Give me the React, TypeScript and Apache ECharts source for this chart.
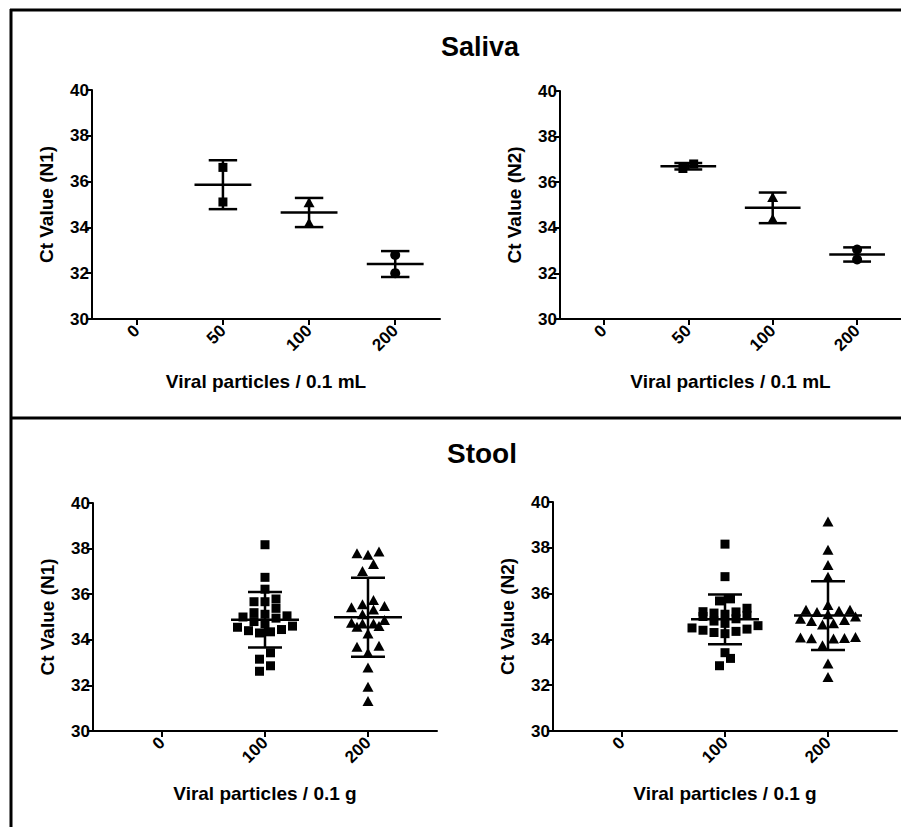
import React, { useEffect, useRef } from 'react';
import * as echarts from 'echarts';

// ---------- data ----------
const salivaCategories = ['0', '50', '100', '200'];
const stoolCategories = ['0', '100', '200'];
const yMin = 30;
const yMax = 40;
const yStep = 2;

const salivaN1_50 = [36.62, 35.11];
const salivaN1_100 = [35.1, 34.2];
const salivaN1_200 = [32.8, 32.0];

const salivaN2_50 = [36.6, 36.8];
const salivaN2_100 = [35.35, 34.4];
const salivaN2_200 = [32.61, 33.05];

const stoolN1_100 = [38.17, 36.74, 36.22, 35.79, 35.67, 35.67, 35.38, 35.19, 35.12, 35.05, 35.0, 34.95,
  34.8, 34.7, 34.6, 34.55, 34.45, 34.4, 34.35, 34.3, 33.43, 33.15, 32.86, 32.62];
const stoolN1_200 = [37.87, 37.73, 37.8, 37.32, 37.02, 35.43, 35.56, 35.75, 35.33, 35.48, 35.12, 34.87,
  34.72, 34.6, 34.57, 34.72, 34.75, 34.28, 33.7, 33.74, 33.43, 32.79, 31.94, 31.32];
const stoolN2_100 = [38.16, 36.74, 35.77, 35.68, 35.36, 35.21, 35.2, 35.15, 35.1, 35.05, 35.0, 34.9,
  34.8, 34.7, 34.6, 34.5, 34.45, 34.4, 34.35, 34.3, 34.25, 33.42, 33.17, 32.85];
const stoolN2_200 = [39.15, 37.91, 37.25, 36.74, 35.5, 35.3, 35.3, 35.25, 35.2, 35.1, 35.0, 34.9,
  34.85, 34.8, 34.7, 34.65, 34.1, 34.05, 34.08, 34.04, 34.06, 33.75, 32.95, 32.36];

// ---------- layout ----------
const FONT = '"Liberation Sans", Arial, Helvetica, sans-serif';

type Group = { idx: number; values: number[]; symbol: string; size: number | number[] };
type Panel = {
  grid: { left: number; top: number; width: number; height: number };
  cats: string[];
  xMin: number;
  xMax: number;
  yName: string;
  xName: string;
  groups: Group[];
};

const SQ = { symbol: 'rect', size: 9 };
const TRI = { symbol: 'triangle', size: [11, 10] };
const CIR = { symbol: 'circle', size: 10 };

const panels: Panel[] = [
  {
    grid: { left: 92, top: 90, width: 348, height: 229 },
    cats: salivaCategories, xMin: -0.52, xMax: 3.52,
    yName: 'Ct Value (N1)', xName: 'Viral particles / 0.1 mL',
    groups: [
      { idx: 1, values: salivaN1_50, ...SQ },
      { idx: 2, values: salivaN1_100, ...TRI },
      { idx: 3, values: salivaN1_200, ...CIR },
    ],
  },
  {
    grid: { left: 560, top: 91, width: 348, height: 228 },
    cats: salivaCategories, xMin: -0.52, xMax: 3.52,
    yName: 'Ct Value (N2)', xName: 'Viral particles / 0.1 mL',
    groups: [
      { idx: 1, values: salivaN2_50, ...SQ },
      { idx: 2, values: salivaN2_100, ...TRI },
      { idx: 3, values: salivaN2_200, ...CIR },
    ],
  },
  {
    grid: { left: 93, top: 503, width: 344, height: 228 },
    cats: stoolCategories, xMin: -0.67, xMax: 2.67,
    yName: 'Ct Value (N1)', xName: 'Viral particles / 0.1 g',
    groups: [
      { idx: 1, values: stoolN1_100, ...SQ },
      { idx: 2, values: stoolN1_200, ...TRI },
    ],
  },
  {
    grid: { left: 553, top: 502, width: 344, height: 229 },
    cats: stoolCategories, xMin: -0.67, xMax: 2.67,
    yName: 'Ct Value (N2)', xName: 'Viral particles / 0.1 g',
    groups: [
      { idx: 1, values: stoolN2_100, ...SQ },
      { idx: 2, values: stoolN2_200, ...TRI },
    ],
  },
];

// GraphPad-like scatter-dot spreading: points whose values are close are put side by side
function spread(values: number[], center: number, pxPerX: number, pxPerY: number, rowPx: number, stepPx: number) {
  const sorted = [...values].sort((a, b) => a - b);
  const rows: number[][] = [];
  let cur: number[] = [];
  let start = 0;
  sorted.forEach((v) => {
    if (cur.length && (v - start) * pxPerY < rowPx) {
      cur.push(v);
    } else {
      if (cur.length) rows.push(cur);
      cur = [v];
      start = v;
    }
  });
  if (cur.length) rows.push(cur);
  const out: number[][] = [];
  rows.forEach((row) => {
    const n = row.length;
    const slots = Array.from({ length: n }, (_, i) => i - (n - 1) / 2);
    slots.sort((a, b) => Math.abs(a) - Math.abs(b) || a - b);
    row.forEach((v, i) => {
      out.push([center + (slots[i] * stepPx) / pxPerX, v]);
    });
  });
  return out;
}

function mean(a: number[]) {
  return a.reduce((s, v) => s + v, 0) / a.length;
}
function sd(a: number[]) {
  const m = mean(a);
  return Math.sqrt(a.reduce((s, v) => s + (v - m) * (v - m), 0) / (a.length - 1));
}

function buildOption() {
  const grids: any[] = [];
  const xAxes: any[] = [];
  const yAxes: any[] = [];
  const series: any[] = [];

  panels.forEach((p, pi) => {
    grids.push({ ...p.grid, containLabel: false });
    const ticks = p.cats.map((_, i) => i);
    xAxes.push({
      type: 'value', gridIndex: pi, min: p.xMin, max: p.xMax,
      splitLine: { show: false },
      axisLine: { show: true, onZero: false, lineStyle: { color: '#000', width: 2 } },
      axisTick: { show: true, customValues: ticks, length: 6, lineStyle: { color: '#000', width: 2 } },
      axisLabel: {
        customValues: ticks, rotate: 45, margin: 9,
        formatter: (v: number) => p.cats[Math.round(v)] ?? '',
        color: '#000', fontWeight: 'bold', fontSize: 17, fontFamily: FONT,
      },
      name: p.xName, nameLocation: 'middle', nameGap: 53,
      nameTextStyle: { color: '#000', fontWeight: 'bold', fontSize: 19, fontFamily: FONT },
    });
    yAxes.push({
      type: 'value', gridIndex: pi, min: yMin, max: yMax, interval: yStep,
      splitLine: { show: false },
      axisLine: { show: true, onZero: false, lineStyle: { color: '#000', width: 2 } },
      axisTick: { show: true, length: 6, lineStyle: { color: '#000', width: 2 } },
      axisLabel: { margin: 3, color: '#000', fontWeight: 'bold', fontSize: 17, fontFamily: FONT },
      name: p.yName, nameLocation: 'middle', nameGap: 36,
      nameTextStyle: { color: '#000', fontWeight: 'bold', fontSize: 19, fontFamily: FONT },
    });

    const pxPerX = p.grid.width / (p.xMax - p.xMin);
    const pxPerY = p.grid.height / (yMax - yMin);

    p.groups.forEach((g) => {
      series.push({
        type: 'scatter', xAxisIndex: pi, yAxisIndex: pi,
        symbol: g.symbol, symbolSize: g.size,
        itemStyle: { color: '#000', opacity: 1 },
        data: spread(g.values, g.idx, pxPerX, pxPerY, 9, 11),
        silent: true,
      });
    });

    series.push({
      type: 'custom', xAxisIndex: pi, yAxisIndex: pi, silent: true,
      data: p.groups.map((g) => [g.idx, mean(g.values), sd(g.values)]),
      renderItem: (_params: any, api: any) => {
        const x = api.value(0);
        const m = api.value(1);
        const s = api.value(2);
        const c = api.coord([x, m]);
        const t = api.coord([x, m + s]);
        const b = api.coord([x, m - s]);
        const hw = api.size([0.33, 0])[0];
        const cw = api.size([0.165, 0])[0];
        const style = { stroke: '#000', lineWidth: 2.5 };
        return {
          type: 'group',
          children: [
            { type: 'line', shape: { x1: c[0] - hw, y1: c[1], x2: c[0] + hw, y2: c[1] }, style },
            { type: 'line', shape: { x1: t[0], y1: t[1], x2: b[0], y2: b[1] }, style },
            { type: 'line', shape: { x1: t[0] - cw, y1: t[1], x2: t[0] + cw, y2: t[1] }, style },
            { type: 'line', shape: { x1: b[0] - cw, y1: b[1], x2: b[0] + cw, y2: b[1] }, style },
          ],
        };
      },
    });
  });

  const lineStyle = { stroke: '#000', lineWidth: 3 };
  return {
    animation: false,
    backgroundColor: '#fff',
    grid: grids,
    xAxis: xAxes,
    yAxis: yAxes,
    series,
    graphic: [
      { type: 'line', shape: { x1: 10, y1: 10, x2: 901, y2: 10 }, style: lineStyle },
      { type: 'line', shape: { x1: 11, y1: 9, x2: 11, y2: 827 }, style: lineStyle },
      { type: 'line', shape: { x1: 10, y1: 418, x2: 901, y2: 418 }, style: lineStyle },
      {
        type: 'text', x: 480, y: 47,
        style: { text: 'Saliva', align: 'center', verticalAlign: 'middle', fill: '#000', font: `bold 27px ${FONT}` },
      },
      {
        type: 'text', x: 482, y: 453,
        style: { text: 'Stool', align: 'center', verticalAlign: 'middle', fill: '#000', font: `bold 28px ${FONT}` },
      },
    ],
  };
}

export default function App() {
  const ref = useRef<HTMLDivElement>(null);
  useEffect(() => {
    if (!ref.current) return;
    const chart = echarts.init(ref.current, null, { renderer: 'svg' });
    chart.setOption(buildOption() as any);
    return () => chart.dispose();
  }, []);
  return (
    <div
      ref={ref}
      style={{ position: 'absolute', left: 0, top: 0, width: 901, height: 827, background: '#fff' }}
    />
  );
}
